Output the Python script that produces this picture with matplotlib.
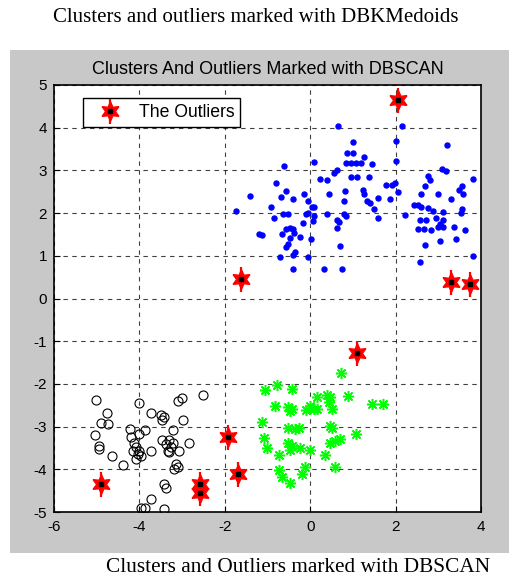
import matplotlib
matplotlib.use("Agg")
import matplotlib.pyplot as plt
from matplotlib.patches import Rectangle

# blue cluster (upper right)
blue_x = [0.66, 1.01, 0.87, 1.01, 1.25, 0.85, 0.95, 1.07, 1.19, 1.45, 0.08, -0.61, 0.63, 0.55,
          0.22, 0.40, 0.95, 1.09, 1.37, -0.81, -1.41, -0.57, -0.69, -0.41, -0.14, 0.44, 0.81,
          1.23, 1.26, 0.79, 1.34, 1.40, 1.58, -0.92, -0.04, 0.04, 0.10, -1.74, -0.85, -0.63,
          -0.51, -0.09, -0.04, 0.10, 0.40, 0.63, 0.67, 0.79, 0.85, 1.50, 1.58, -0.17, 0.06,
          0.63, -0.57, -0.48, -0.41, -0.37, -0.67, -1.19, -1.13, -0.24, -0.47, 0.02, -0.57,
          -0.53, 0.70, -0.36, -0.40, -0.70, -0.06, -0.41, 0.32, 0.75,
          2.16, 2.00, 3.21, 2.00, 3.09, 3.17, 2.76, 2.80, 3.81, 1.78, 1.92, 1.98, 2.70, 3.56,
          3.48, 2.05, 2.60, 2.99, 1.86, 3.30, 3.58, 2.42, 2.52, 2.60, 2.76, 2.88, 2.23, 3.11,
          3.56, 3.52, 2.56, 2.72, 2.95, 3.11, 2.52, 2.67, 2.83, 2.99, 3.03, 3.11, 3.36, 3.41,
          3.63, 2.68, 3.05, 3.81, 2.56]
blue_y = [4.05, 3.66, 3.41, 3.41, 3.32, 3.18, 3.18, 3.18, 3.18, 3.16, 3.20, 3.10, 3.02, 2.95,
          2.81, 2.77, 2.84, 2.84, 2.84, 2.71, 2.41, 2.52, 2.38, 2.34, 2.44, 2.44, 2.52,
          2.55, 2.44, 2.28, 2.28, 2.23, 2.36, 2.14, 2.28, 2.14, 2.14, 2.05, 1.89, 1.97,
          1.97, 1.97, 2.01, 1.93, 1.97, 1.85, 1.80, 1.97, 1.93, 2.09, 1.89, 1.77, 1.81,
          1.66, 1.62, 1.66, 1.62, 1.54, 1.52, 1.52, 1.48, 1.44, 1.41, 1.40, 1.21,
          1.27, 1.23, 1.09, 1.03, 0.97, 0.97, 0.70, 0.70, 0.70,
          4.05, 3.69, 3.60, 3.21, 3.03, 2.98, 2.86, 2.78, 2.79, 2.66, 2.66, 2.70, 2.64, 2.64,
          2.54, 2.49, 2.45, 2.45, 2.33, 2.33, 2.45, 2.19, 2.18, 2.14, 2.12, 2.06, 1.95, 2.02,
          2.10, 2.00, 1.84, 1.84, 1.89, 1.84, 1.63, 1.63, 1.60, 1.67, 1.74, 1.67, 1.67, 1.40,
          1.60, 1.25, 1.35, 0.99, 0.86]

# green cluster (lower middle)
green_x = [0.72, -1.05, -0.78, -0.43, 0.16, 0.39, 0.47, 0.43, 0.89, 1.44, 1.70, -0.82,
           -0.51, -0.43, -0.47, -0.09, 0.00, 0.08, 0.16, 0.51, -1.13, -0.51, -0.35, -0.27,
           0.47, 0.51, 1.07, -1.09, -1.01, -0.51, -0.43, -0.47, -0.23, 0.00, 0.47, 0.58,
           0.70, 0.35, -0.72, -0.12, -0.19, 0.58, -0.72, -0.66, -0.48]
green_y = [-1.75, -2.15, -2.02, -2.11, -2.31, -2.27, -2.31, -2.43, -2.29, -2.48, -2.48, -2.51,
           -2.55, -2.59, -2.63, -2.60, -2.51, -2.59, -2.59, -2.59, -2.89, -3.04, -3.06, -3.04,
           -2.98, -3.04, -3.18, -3.26, -3.50, -3.38, -3.46, -3.54, -3.50, -3.54, -3.38, -3.34,
           -3.30, -3.66, -3.67, -3.94, -4.10, -3.95, -4.02, -4.17, -4.33]

# black cluster (lower left)
black_x = [-5.01, -4.76, -4.89, -4.74, -5.03, -4.95, -4.95, -4.65, -4.39, -4.00, -3.74, -3.49,
           -3.43, -3.47, -3.10, -3.00, -2.52, -2.99, -3.22, -2.83, -4.23, -3.88, -4.19, -4.00,
           -4.12, -4.08, -4.16, -4.00, -4.04, -3.96, -4.08, -3.73, -3.46, -3.38, -3.30, -3.26,
           -3.22, -3.34, -3.30, -3.08, -3.14, -3.10, -3.18, -3.42, -3.38, -3.73, -3.96, -3.88,
           -3.42]
black_y = [-2.38, -2.68, -2.91, -2.93, -3.20, -3.46, -3.53, -3.68, -3.91, -2.44, -2.68, -2.73,
           -2.77, -2.85, -2.39, -2.34, -2.26, -2.85, -3.09, -3.39, -3.05, -3.07, -3.24, -3.17,
           -3.39, -3.48, -3.56, -3.56, -3.64, -3.70, -3.76, -3.56, -3.32, -3.40, -3.32, -3.48,
           -3.39, -3.56, -3.60, -3.56, -3.87, -3.95, -3.99, -4.35, -4.44, -4.69, -4.90, -4.90,
           -4.94]

# outliers
out_x = [2.05, -1.62, 3.30, 3.75, 1.10, -1.92, -1.70, -2.57, -2.57, -4.90]
out_y = [4.65, 0.45, 0.38, 0.35, -1.28, -3.25, -4.10, -4.35, -4.55, -4.35]

x_ticks = [-6, -4, -2, 0, 2, 4]
y_ticks = [-5, -4, -3, -2, -1, 0, 1, 2, 3, 4, 5]

plt.rcParams['font.family'] = ['Liberation Sans', 'DejaVu Sans']
plt.rcParams['axes.unicode_minus'] = False

fig = plt.figure(figsize=(5.09, 5.78), dpi=100)
# matlab grey figure background
fig.patches.append(Rectangle((10 / 509, 1 - 553 / 578), 499 / 509, 503 / 578,
                             transform=fig.transFigure, facecolor='#c8c8c8',
                             edgecolor='none', zorder=-10))
ax = fig.add_axes([54 / 509, 1 - 512 / 578, 427 / 509, 427 / 578])

ax.plot(blue_x, blue_y, linestyle='none', marker='o', ms=3.6, color='#0000ff', mec='#0000ff')
ax.plot(green_x, green_y, linestyle='none', marker=(8, 2, 0), ms=8, color='#00ff00',
        mew=1.1)
ax.plot(black_x, black_y, linestyle='none', marker='o', ms=6.5, mfc='none', mec='black',
        mew=0.8)

h1, = ax.plot(out_x, out_y, linestyle='none', marker='|', ms=18, color='red', mew=1.6)
h2, = ax.plot(out_x, out_y, linestyle='none', marker=(6, 1, 0), ms=14, color='red')
h3, = ax.plot(out_x, out_y, linestyle='none', marker='s', ms=3.4, color='black')

ax.set_xlim(-6, 4)
ax.set_ylim(-5, 5)
ax.set_xticks(x_ticks)
ax.set_yticks(y_ticks)
ax.tick_params(direction='in', length=4, labelsize=11, colors='black')
ax.tick_params(axis='x', pad=6)
ax.tick_params(axis='y', pad=5)
for s in ax.spines.values():
    s.set_linewidth(1.2)
ax.grid(True, color='black', linestyle=(0, (4, 4)), linewidth=0.8, alpha=0.75)
ax.set_axisbelow(True)

ax.set_title("Clusters And Outliers Marked with DBSCAN", fontsize=13, pad=8)

leg = ax.legend([(h1, h2, h3)], ["The Outliers"], loc='upper left',
                bbox_to_anchor=(0.068, 0.97), borderaxespad=0, fancybox=False,
                edgecolor='black', framealpha=1, fontsize=12.7, handlelength=2.4,
                handletextpad=0.4, borderpad=0.35)
leg.get_frame().set_linewidth(1.0)

fig.text(0.503, 1 - 18 / 578, "Clusters and outliers marked with DBKMedoids",
         ha='center', va='center', family=['Liberation Serif', 'DejaVu Serif'], fontsize=15)
fig.text(0.5855, 1 - 567 / 578, "Clusters and Outliers marked with DBSCAN",
         ha='center', va='center', family=['Liberation Serif', 'DejaVu Serif'], fontsize=15.3)

fig.savefig("out.png", dpi=100)
